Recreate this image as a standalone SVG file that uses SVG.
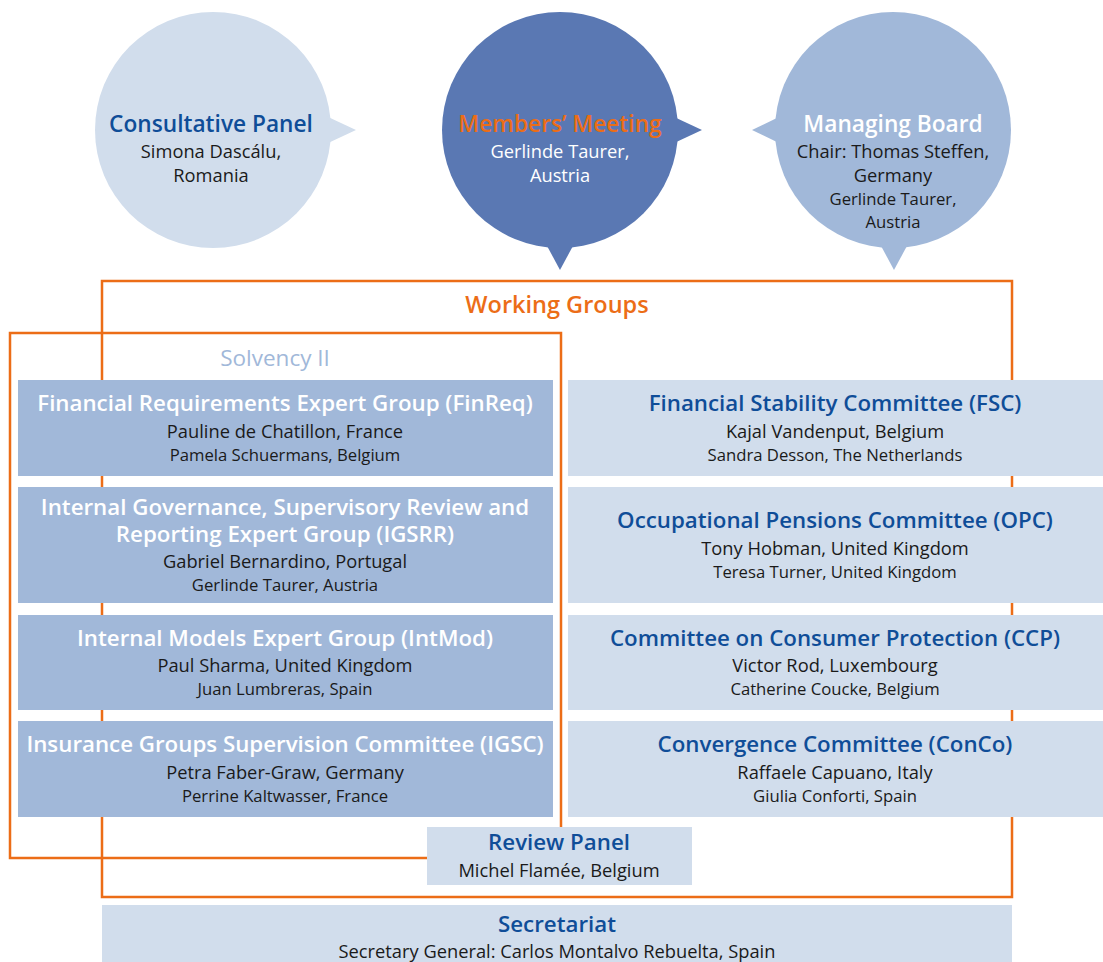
<svg xmlns="http://www.w3.org/2000/svg" width="1103" height="962" viewBox="0 0 1103 962">
<style>
text{font-family:"Open Sans","Noto Sans","Liberation Sans",sans-serif;text-anchor:middle}
.h{font-size:22.3px;font-weight:600;fill:#0f4d98}
.hw{font-size:22.3px;font-weight:600;fill:#ffffff}
.c{font-size:22.7px}
.n1{font-size:18.3px;fill:#1a1a1a}
.n2{font-size:16.7px;fill:#1a1a1a}
.dk{fill:#a1b8d9}
.lt{fill:#d1ddec}
.frame{fill:none;stroke:#ec6d17;stroke-width:2.5}
</style>
<rect width="1103" height="962" fill="#ffffff"/>
<g id="frames">
<rect class="frame" x="102" y="281" width="910" height="616"/>
<rect class="frame" x="10" y="333" width="551" height="525"/>
</g>
<g id="consultative-panel">
<circle cx="213" cy="130" r="118" class="lt"/>
<polygon points="326,116 356,130 326,144" class="lt"/>
<text x="211" y="132" class="h c">Consultative Panel</text>
<text x="211" y="158" class="n1">Simona Dascálu,</text>
<text x="211" y="182" class="n1">Romania</text>
</g>
<g id="members-meeting">
<circle cx="560" cy="130" r="118" fill="#5a78b3"/>
<polygon points="672,116 702,130 672,144" fill="#5a78b3"/>
<polygon points="546,244 560,270 574,244" fill="#5a78b3"/>
<text x="560" y="132" class="h c" style="fill:#ec6d17">Members’ Meeting</text>
<text x="560" y="158" class="n1" style="fill:#ffffff">Gerlinde Taurer,</text>
<text x="560" y="182" class="n1" style="fill:#ffffff">Austria</text>
</g>
<g id="managing-board">
<circle cx="893" cy="130" r="118" class="dk"/>
<polygon points="781,116 752,130 781,144" class="dk"/>
<polygon points="880,244 894,270 908,244" class="dk"/>
<text x="893" y="132" class="hw c">Managing Board</text>
<text x="893" y="158" class="n1">Chair: Thomas Steffen,</text>
<text x="893" y="182" class="n1">Germany</text>
<text x="893" y="205" class="n2">Gerlinde Taurer,</text>
<text x="893" y="228" class="n2">Austria</text>
</g>
<g id="working-groups-title">
<text x="557" y="313" class="h" style="fill:#ec6d17;font-size:23.5px">Working Groups</text>
<text x="275" y="366" class="h" style="fill:#a1b8d9;font-weight:500;font-size:22.5px">Solvency II</text>
</g>
<g id="finreq">
<rect x="18" y="380" width="535" height="96" class="dk"/>
<text x="285" y="411" class="hw">Financial Requirements Expert Group (FinReq)</text>
<text x="285" y="438" class="n1">Pauline de Chatillon, France</text>
<text x="285" y="461" class="n2">Pamela Schuermans, Belgium</text>
</g>
<g id="igsrr">
<rect x="18" y="487" width="535" height="116" class="dk"/>
<text class="hw"><tspan x="285" y="515">Internal Governance, Supervisory Review and</tspan><tspan x="285" y="542">Reporting Expert Group (IGSRR)</tspan></text>
<text x="285" y="568" class="n1">Gabriel Bernardino, Portugal</text>
<text x="285" y="591" class="n2">Gerlinde Taurer, Austria</text>
</g>
<g id="intmod">
<rect x="18" y="615" width="535" height="95" class="dk"/>
<text x="285" y="646" class="hw">Internal Models Expert Group (IntMod)</text>
<text x="285" y="672" class="n1">Paul Sharma, United Kingdom</text>
<text x="285" y="695" class="n2">Juan Lumbreras, Spain</text>
</g>
<g id="igsc">
<rect x="18" y="721" width="535" height="96" class="dk"/>
<text x="285" y="752" class="hw">Insurance Groups Supervision Committee (IGSC)</text>
<text x="285" y="779" class="n1">Petra Faber-Graw, Germany</text>
<text x="285" y="802" class="n2">Perrine Kaltwasser, France</text>
</g>
<g id="fsc">
<rect x="568" y="380" width="535" height="96" class="lt"/>
<text x="835" y="411" class="h">Financial Stability Committee (FSC)</text>
<text x="835" y="438" class="n1">Kajal Vandenput, Belgium</text>
<text x="835" y="461" class="n2">Sandra Desson, The Netherlands</text>
</g>
<g id="opc">
<rect x="568" y="487" width="535" height="116" class="lt"/>
<text x="835" y="528" class="h">Occupational Pensions Committee (OPC)</text>
<text x="835" y="555" class="n1">Tony Hobman, United Kingdom</text>
<text x="835" y="578" class="n2">Teresa Turner, United Kingdom</text>
</g>
<g id="ccp">
<rect x="568" y="615" width="535" height="95" class="lt"/>
<text x="835" y="646" class="h">Committee on Consumer Protection (CCP)</text>
<text x="835" y="672" class="n1">Victor Rod, Luxembourg</text>
<text x="835" y="695" class="n2">Catherine Coucke, Belgium</text>
</g>
<g id="conco">
<rect x="568" y="721" width="535" height="96" class="lt"/>
<text x="835" y="752" class="h">Convergence Committee (ConCo)</text>
<text x="835" y="779" class="n1">Raffaele Capuano, Italy</text>
<text x="835" y="802" class="n2">Giulia Conforti, Spain</text>
</g>
<g id="review-panel">
<rect x="427" y="827" width="265" height="58" class="lt"/>
<text x="559" y="850" class="h">Review Panel</text>
<text x="559" y="877" class="n1">Michel Flamée, Belgium</text>
</g>
<g id="secretariat">
<rect x="102" y="905" width="910" height="57" class="lt"/>
<text x="557" y="932" class="h">Secretariat</text>
<text x="557" y="958" class="n1">Secretary General: Carlos Montalvo Rebuelta, Spain</text>
</g>
<g id="connectors"></g>
</svg>
